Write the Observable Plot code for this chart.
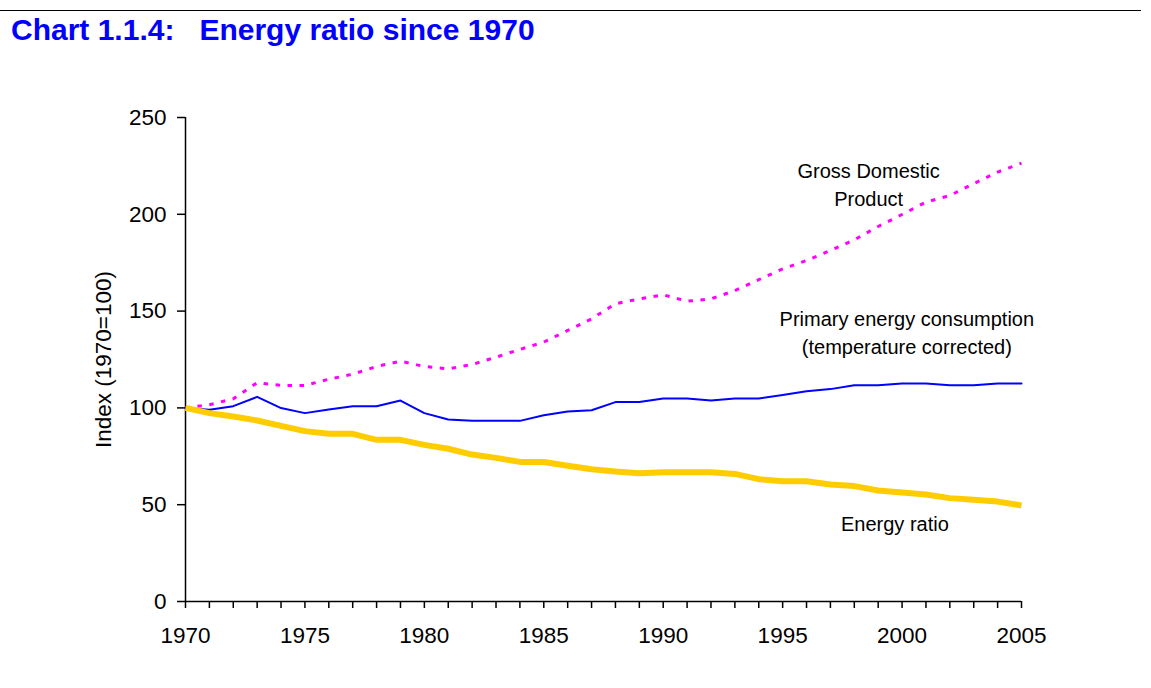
<!DOCTYPE html>
<html>
<head>
<meta charset="utf-8">
<script src="https://cdn.jsdelivr.net/npm/d3@7"></script>
<script src="https://cdn.jsdelivr.net/npm/@observablehq/plot@0.6"></script>
<style>
  html, body { margin: 0; padding: 0; background: #fff; }
  #wrap { position: relative; width: 1151px; height: 688px; overflow: hidden; font-family: Arial, "Liberation Sans", sans-serif; }
  #head { position: relative; width: 1151px; height: 60px; }
  #rule { position: absolute; left: 0; top: 10px; width: 1141px; height: 0; border-top: 1.5px solid #000; }
  #title { position: absolute; left: 11px; top: 15px; margin: 0; font-size: 30px; line-height: 1; font-weight: bold; color: #0000ff; white-space: pre; }
  #chart svg { display: block; }
</style>
</head>
<body>
<div id="wrap">
  <div id="head">
    <div id="rule"></div>
    <div id="title">Chart 1.1.4:   Energy ratio since 1970</div>
  </div>
  <div id="chart"></div>
</div>
<script>
const years = [1970, 1971, 1972, 1973, 1974, 1975, 1976, 1977, 1978, 1979,
  1980, 1981, 1982, 1983, 1984, 1985, 1986, 1987, 1988, 1989,
  1990, 1991, 1992, 1993, 1994, 1995, 1996, 1997, 1998, 1999,
  2000, 2001, 2002, 2003, 2004, 2005];

const gdp = [100, 101.6, 104.7, 113, 111.6, 111.6, 114.8, 117.4, 121.4, 124.1,
  121.4, 120.2, 122.4, 126.2, 130.2, 134, 140, 146, 153.8, 156.3,
  158.4, 155.1, 156.3, 160.6, 166.2, 171.8, 176.1, 181.3, 186.8, 193.7,
  199.9, 206.3, 209.7, 215.8, 221.8, 226.4];

const primaryEnergy = [100, 99, 100.9, 105.7, 99.9, 97.3, 99.2, 100.9, 100.9, 103.8,
  97.3, 94, 93.3, 93.3, 93.3, 96.2, 98.1, 98.8, 103, 103,
  104.9, 104.9, 103.8, 104.9, 104.9, 106.7, 108.6, 109.7, 111.7, 111.7,
  112.6, 112.6, 111.7, 111.7, 112.6, 112.6];

const energyRatio = [100, 97.3, 95.6, 93.5, 90.7, 88, 86.6, 86.6, 83.5, 83.5,
  80.9, 78.9, 75.9, 74.2, 72.1, 72.1, 70.1, 68.3, 67.1, 66.3,
  66.8, 66.8, 66.8, 65.9, 63.2, 62.1, 62.1, 60.4, 59.6, 57.3,
  56.3, 55.3, 53.4, 52.5, 51.6, 49.6];

const yTicks = [0, 50, 100, 150, 200, 250];
const xLabelYears = [1970, 1975, 1980, 1985, 1990, 1995, 2000, 2005];
const yAxisLabel = "Index (1970=100)";

const seriesNames = ["Gross Domestic\nProduct", "Primary energy consumption\n(temperature corrected)", "Energy ratio"];
const labelYears = [1998.6, 2000.2, 1999.7];
const labelValues = [216.2, 139.8, 41.2];

const toRows = vals => years.map((year, i) => ({year, value: vals[i]}));
const labels = seriesNames.map((text, i) => ({text, year: labelYears[i], value: labelValues[i]}));

const font = 'Arial, "Liberation Sans", sans-serif';

const chart = Plot.plot({
  width: 1151,
  height: 628,
  marginLeft: 185,
  marginRight: 130,
  marginTop: 57,
  marginBottom: 87,
  style: {fontFamily: font, fontSize: "22.5px", color: "#000", background: "#fff", overflow: "visible"},
  x: {domain: [1970, 2005], type: "linear"},
  y: {domain: [0, 250]},
  marks: [
    Plot.axisY({ticks: yTicks, tickSize: 8, tickPadding: 11, tickFormat: d => String(d), label: null, fontSize: 22.5, strokeWidth: 1.5}),
    Plot.axisX({ticks: years, tickSize: 7, tickPadding: 19, tickFormat: d => xLabelYears.includes(d) ? String(d) : "", label: null, fontSize: 22.5, strokeWidth: 1.5}),
    Plot.ruleX([1970], {stroke: "#000", strokeWidth: 1.5}),
    Plot.ruleY([0], {stroke: "#000", strokeWidth: 1.5}),
    Plot.text([yAxisLabel], {frameAnchor: "left", dx: -82, rotate: -90, textAnchor: "middle", lineAnchor: "middle", fontSize: 22.5, fill: "#000"}),
    Plot.line(toRows(gdp), {x: "year", y: "value", stroke: "#ff00ff", strokeWidth: 3, strokeDasharray: "4.5,7.5", strokeLinecap: "butt"}),
    Plot.line(toRows(primaryEnergy), {x: "year", y: "value", stroke: "#0000ff", strokeWidth: 2, strokeLinejoin: "round"}),
    Plot.line(toRows(energyRatio), {x: "year", y: "value", stroke: "#ffcc00", strokeWidth: 6, strokeLinejoin: "round", strokeLinecap: "butt"}),
    Plot.text(labels, {x: "year", y: "value", text: "text", fontSize: 20, lineHeight: 1.4, fill: "#000", textAnchor: "middle"})
  ]
});
document.getElementById("chart").appendChild(chart);
</script>
</body>
</html>
